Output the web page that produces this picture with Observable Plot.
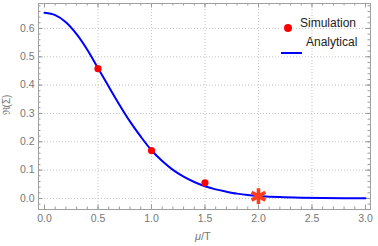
<!DOCTYPE html>
<html>
<head>
<meta charset="utf-8">
<script src="https://cdn.jsdelivr.net/npm/d3@7"></script>
<script src="https://cdn.jsdelivr.net/npm/@observablehq/plot@0.6"></script>
<style>
  body { margin: 0; background: #fff; }
  #wrap { position: relative; width: 378px; height: 246px; font-family: "Liberation Sans", Arial, sans-serif; }
  .ov { position: absolute; white-space: nowrap; line-height: 1; }
</style>
</head>
<body>
<div id="wrap"></div>
<script>
// Analytical curve
const curveX = [0, 0.1, 0.2, 0.3, 0.4, 0.5, 0.6, 0.7, 0.8, 0.9, 1.0, 1.1, 1.2, 1.3, 1.4, 1.5, 1.6, 1.7, 1.8, 1.9, 2.0, 2.2, 2.4, 2.6, 2.8, 3.0];
const curveY = [0.655, 0.647, 0.622, 0.58, 0.525, 0.46, 0.395, 0.331, 0.271, 0.218, 0.17, 0.132, 0.101, 0.077, 0.058, 0.043, 0.032, 0.024, 0.017, 0.012, 0.009, 0.0048, 0.0026, 0.0014, 0.0008, 0.0005];
// Simulation points
const simX = [0.5, 1.0, 1.5];
const simY = [0.458, 0.169, 0.055];
// Highlighted point (star)
const starX = [2.0];
const starY = [0.008];
// Tick values
const xMajor = [0, 0.5, 1.0, 1.5, 2.0, 2.5, 3.0];
const xMinor = d3.range(0, 3.0001, 0.1).map(v => +v.toFixed(2));
const yMajor = [0, 0.1, 0.2, 0.3, 0.4, 0.5, 0.6];
const yMinor = d3.range(-0.02, 0.6801, 0.02).map(v => +v.toFixed(2));
const xGrid = [0.5, 1.0, 1.5, 2.0, 2.5];
const yGrid = [0, 0.1, 0.2, 0.3, 0.4, 0.5, 0.6];

const W = 378, H = 246, mL = 38, mR = 8, mT = 3, mB = 37;
const pw = W - mL - mR, ph = H - mT - mB;
const curve = curveX.map((x, i) => ({x, y: curveY[i]}));
const sim = simX.map((x, i) => ({x, y: simY[i]}));
const star = starX.map((x, i) => ({x, y: starY[i]}));
const tickCol = "#9a9a9a";

const chart = Plot.plot({
  width: W, height: H,
  marginLeft: mL, marginRight: mR, marginTop: mT, marginBottom: mB,
  style: {fontFamily: "'Liberation Sans', Arial, sans-serif", fontSize: "10.5px", color: "#777", background: "#fff"},
  x: {domain: [-0.056, 3.047]},
  y: {domain: [-0.039, 0.688]},
  marks: [
    Plot.gridX(xGrid, {stroke: "#c4c4c4", strokeOpacity: 1, strokeDasharray: "1,2"}),
    Plot.gridY(yGrid, {stroke: "#c4c4c4", strokeOpacity: 1, strokeDasharray: "1,2"}),
    // minor ticks
    Plot.tickX(xMinor, {x: d => d, stroke: tickCol, insetTop: ph - 2.5}),
    Plot.tickX(xMinor, {x: d => d, stroke: tickCol, insetBottom: ph - 2.5}),
    Plot.tickY(yMinor, {y: d => d, stroke: tickCol, insetRight: pw - 2.5}),
    Plot.tickY(yMinor, {y: d => d, stroke: tickCol, insetLeft: pw - 2.5}),
    // major ticks
    Plot.tickX(xMajor, {x: d => d, stroke: tickCol, insetTop: ph - 4.5}),
    Plot.tickX(xMajor, {x: d => d, stroke: tickCol, insetBottom: ph - 4.5}),
    Plot.tickY(yMajor, {y: d => d, stroke: tickCol, insetRight: pw - 4.5}),
    Plot.tickY(yMajor, {y: d => d, stroke: tickCol, insetLeft: pw - 4.5}),
    Plot.axisX(xMajor, {tickSize: 0, tickPadding: 5, tickFormat: d3.format(".1f"), label: null, fill: "#777"}),
    Plot.axisY(yMajor, {tickSize: 0, tickPadding: 4, tickFormat: d3.format(".1f"), label: null, fill: "#777"}),
    Plot.frame({stroke: "#a0a0a0", strokeWidth: 1}),
    Plot.line(curve, {x: "x", y: "y", stroke: "#0000ff", strokeWidth: 2, curve: "catmull-rom"}),
    Plot.dot(sim, {x: "x", y: "y", fill: "#ff0000", r: 3.6}),
    Plot.dot(star, {x: "x", y: "y", symbol: "asterisk", stroke: "#ff3c1e", strokeWidth: 3.6, r: 7.5})
  ]
});
const wrap = document.getElementById("wrap");
wrap.appendChild(chart);

function ov(html, css) {
  const d = document.createElement("div");
  d.className = "ov";
  d.innerHTML = html;
  d.style.cssText += css;
  wrap.appendChild(d);
  return d;
}
// axis labels
ov('<i>μ</i>/T', 'left:195px; top:231px; font-size:11px; color:#777;');
ov('ℜ(Σ)', 'left:-3px; top:100px; font-size:10px; color:#777; transform: rotate(-90deg); transform-origin: center;');
// legend
ov('<span style="display:inline-block;width:8px;height:8px;border-radius:50%;background:#ff0000;"></span>', 'left:284px; top:19px;');
ov('Simulation', 'left:300px; top:17px; font-size:12px; color:#222;');
ov('<span style="display:inline-block;width:21px;height:2px;background:#0000ff;"></span>', 'left:281px; top:41px;');
ov('Analytical', 'left:306px; top:36px; font-size:12px; color:#222;');
</script>
</body>
</html>
